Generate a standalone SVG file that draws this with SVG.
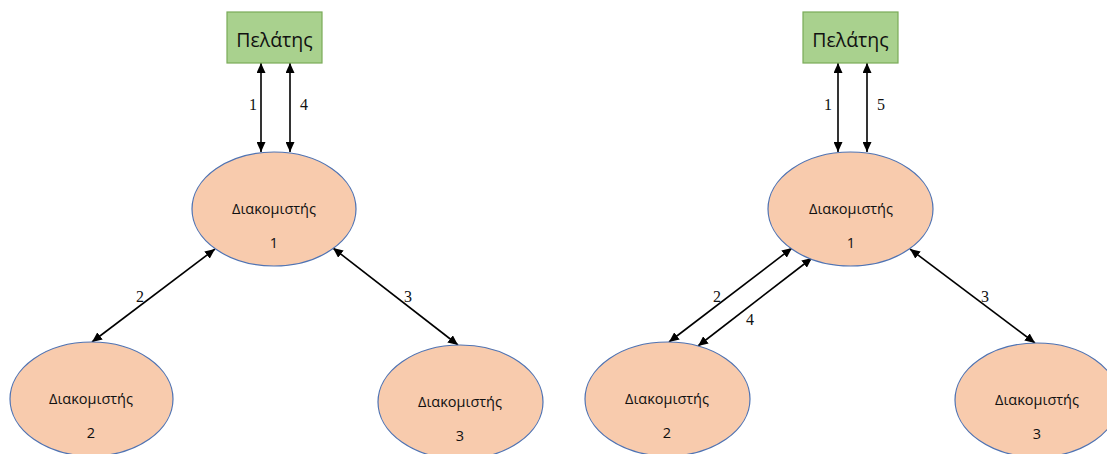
<svg xmlns="http://www.w3.org/2000/svg" width="1107" height="454" viewBox="0 0 1107 454">
  <style>
    .client { fill: #a9d18e; stroke: #7aab58; stroke-width: 1.2; }
    .server { fill: #f8cbad; stroke: #4f73b3; stroke-width: 1.2; }
    .ctitle { font-family: "Open Sans", "Noto Sans", sans-serif; font-size: 19.5px; fill: #111; text-anchor: middle; }
    .stitle { font-family: "Open Sans", "Noto Sans", sans-serif; font-size: 14.5px; fill: #111; text-anchor: middle; }
    .edge { stroke: #000; stroke-width: 1.6; fill: none; marker-start: url(#head); marker-end: url(#head); }
    .elabel { font-family: "Liberation Serif", "Times New Roman", serif; font-size: 16px; fill: #111; text-anchor: middle; }
  </style>
  <defs>
    <marker id="head" markerUnits="userSpaceOnUse" markerWidth="10" markerHeight="9" refX="10" refY="4.5" orient="auto-start-reverse" viewBox="0 0 10 9">
      <path d="M0,0 L10,4.5 L0,9 z" fill="#000"/>
    </marker>
  </defs>
  <rect width="1107" height="454" fill="#fff"/>

  <!-- connectors: left scheme -->
  <g id="connectors-left">
    <line class="edge" x1="261" y1="63" x2="261" y2="152"/>
    <line class="edge" x1="290" y1="63" x2="290" y2="152"/>
    <line class="edge" x1="215" y1="249" x2="92" y2="342"/>
    <line class="edge" x1="333" y1="248" x2="458" y2="345"/>
    <text class="elabel" x="253" y="110">1</text>
    <text class="elabel" x="304" y="110">4</text>
    <text class="elabel" x="140" y="302">2</text>
    <text class="elabel" x="408" y="302">3</text>
  </g>

  <!-- connectors: right scheme -->
  <g id="connectors-right">
    <line class="edge" x1="838" y1="63" x2="838" y2="152"/>
    <line class="edge" x1="867" y1="63" x2="867" y2="152"/>
    <line class="edge" x1="792" y1="248" x2="669" y2="342"/>
    <line class="edge" x1="812" y1="258" x2="698" y2="346"/>
    <line class="edge" x1="910" y1="249" x2="1035" y2="343"/>
    <text class="elabel" x="828" y="110">1</text>
    <text class="elabel" x="881" y="110">5</text>
    <text class="elabel" x="717" y="302">2</text>
    <text class="elabel" x="750" y="325">4</text>
    <text class="elabel" x="985" y="302">3</text>
  </g>

  <!-- left scheme nodes -->
  <g id="client-left">
    <rect class="client" x="227" y="12" width="95" height="51"/>
    <text class="ctitle" x="274.5" y="47">Πελάτης</text>
  </g>
  <g id="server1-left">
    <ellipse class="server" cx="274" cy="209" rx="82" ry="57"/>
    <text class="stitle" x="274" y="214">Διακομιστής</text>
    <text class="stitle" x="274" y="248">1</text>
  </g>
  <g id="server2-left">
    <ellipse class="server" cx="91.5" cy="399" rx="81.5" ry="57"/>
    <text class="stitle" x="91" y="404">Διακομιστής</text>
    <text class="stitle" x="91" y="438">2</text>
  </g>
  <g id="server3-left">
    <ellipse class="server" cx="460.5" cy="402" rx="82.5" ry="57"/>
    <text class="stitle" x="460" y="407">Διακομιστής</text>
    <text class="stitle" x="460" y="441">3</text>
  </g>

  <!-- right scheme nodes -->
  <g id="client-right">
    <rect class="client" x="803" y="12" width="95" height="51"/>
    <text class="ctitle" x="850.5" y="47">Πελάτης</text>
  </g>
  <g id="server1-right">
    <ellipse class="server" cx="850.5" cy="209" rx="82.5" ry="57"/>
    <text class="stitle" x="851" y="214">Διακομιστής</text>
    <text class="stitle" x="851" y="248">1</text>
  </g>
  <g id="server2-right">
    <ellipse class="server" cx="667.5" cy="399" rx="82.5" ry="57"/>
    <text class="stitle" x="667" y="404">Διακομιστής</text>
    <text class="stitle" x="667" y="438">2</text>
  </g>
  <g id="server3-right">
    <ellipse class="server" cx="1037" cy="400" rx="82" ry="57"/>
    <text class="stitle" x="1037" y="405">Διακομιστής</text>
    <text class="stitle" x="1037" y="439">3</text>
  </g>
</svg>
